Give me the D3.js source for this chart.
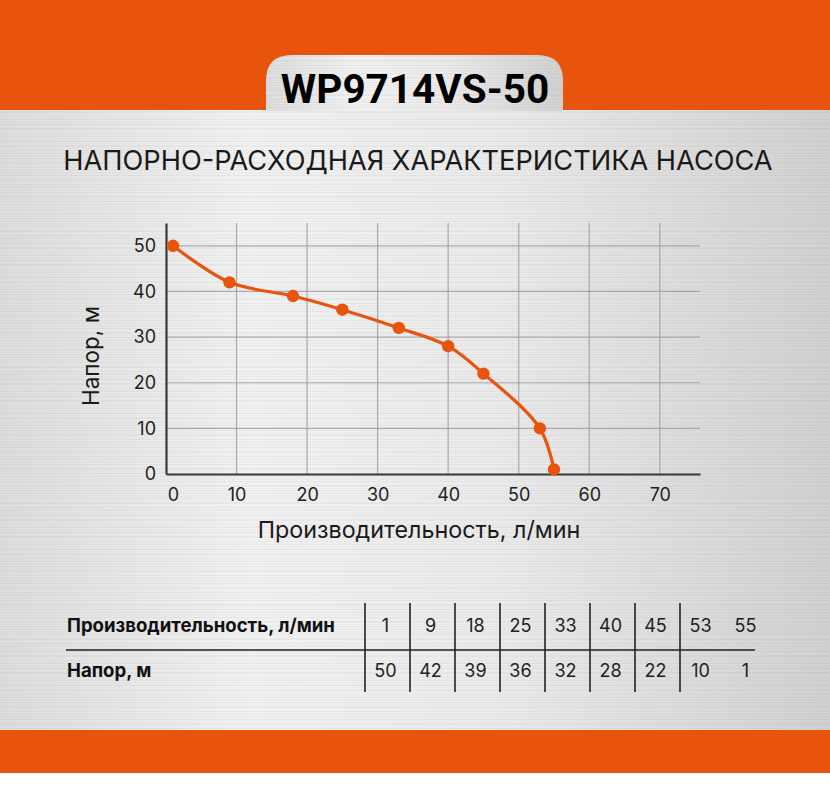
<!DOCTYPE html>
<html><head><meta charset="utf-8">
<script src="https://cdn.jsdelivr.net/npm/d3@7"></script>
<style>html,body{margin:0;padding:0;background:#fff}svg{display:block}</style>
</head><body>
<script>
const flow = [1, 9, 18, 25, 33, 40, 45, 53, 55];
const head = [50, 42, 39, 36, 32, 28, 22, 10, 1];
const xTicks = [0, 10, 20, 30, 40, 50, 60, 70];
const yTicks = [0, 10, 20, 30, 40, 50];
const modelName = "WP9714VS-50";
const chartTitle = "НАПОРНО-РАСХОДНАЯ ХАРАКТЕРИСТИКА НАСОСА";
const xTitle = "Производительность, л/мин";
const yTitle = "Напор, м";
const rowLabels = ["Производительность, л/мин", "Напор, м"];

const W = 830, H = 786;
const ORANGE = "#E8540E";
const FONT = "Inter, 'Liberation Sans', sans-serif";
const svg = d3.select("body").append("svg").attr("width", W).attr("height", H);
const defs = svg.append("defs");

// brushed metal background
const g1 = defs.append("linearGradient").attr("id", "metal").attr("x1", 0).attr("x2", 1).attr("y1", 0).attr("y2", 0);
[[0, "#dedede"], [0.3, "#f3f3f3"], [0.6, "#ececec"], [1, "#d2d2d2"]].forEach(s => g1.append("stop").attr("offset", s[0]).attr("stop-color", s[1]));
const pat = defs.append("pattern").attr("id", "stripes").attr("patternUnits", "userSpaceOnUse").attr("width", W).attr("height", 17);
const stripeDefs = [[0, 1, 0.10], [2, 2, 0.06], [5, 1, 0.12], [7, 1, 0.04], [9, 2, 0.09], [12, 1, 0.05], [14, 1, 0.11], [16, 1, 0.05]];
stripeDefs.forEach(s => pat.append("rect").attr("x", 0).attr("y", s[0]).attr("width", W).attr("height", s[1]).attr("fill", "#888").attr("opacity", s[2]));

svg.append("rect").attr("width", W).attr("height", H).attr("fill", "#fff");
svg.append("rect").attr("x", 0).attr("y", 110).attr("width", W).attr("height", 620).attr("fill", "url(#metal)");
svg.append("rect").attr("x", 0).attr("y", 110).attr("width", W).attr("height", 620).attr("fill", "url(#stripes)");

// orange bands
svg.append("rect").attr("x", 0).attr("y", 0).attr("width", W).attr("height", 110).attr("fill", ORANGE);
svg.append("rect").attr("x", 0).attr("y", 730).attr("width", W).attr("height", 43).attr("fill", ORANGE);

// tab
const tx0 = 266, tx1 = 563, ty0 = 55, ty1 = 111, r = 26;
const tabPath = `M${tx0},${ty1} L${tx0},${ty0 + r} Q${tx0},${ty0} ${tx0 + r},${ty0} L${tx1 - r},${ty0} Q${tx1},${ty0} ${tx1},${ty0 + r} L${tx1},${ty1} Z`;
svg.append("path").attr("d", tabPath).attr("fill", "url(#metal)");
svg.append("path").attr("d", tabPath).attr("fill", "url(#stripes)");
svg.append("text").attr("x", 415).attr("y", 103).attr("text-anchor", "middle")
  .attr("font-family", "Roboto, 'Liberation Sans', sans-serif").attr("font-weight", 700).attr("font-size", 40.5)
  .attr("fill", "#000").text(modelName);

// subtitle
svg.append("text").attr("x", 418).attr("y", 170).attr("text-anchor", "middle")
  .attr("font-family", FONT).attr("font-size", 27.2).attr("fill", "#1a1a1a").text(chartTitle);

// chart
const x = d3.scaleLinear().domain([0, 75.7]).range([166, 700]);
const y = d3.scaleLinear().domain([0, 55]).range([474, 223]);
const chart = svg.append("g");

chart.selectAll(".vg").data(xTicks.filter(d => d > 0)).join("line")
  .attr("x1", d => x(d)).attr("x2", d => x(d)).attr("y1", y(55)).attr("y2", y(0))
  .attr("stroke", "#9a9a9a").attr("stroke-width", 1.2).attr("opacity", 0.8);
chart.selectAll(".hg").data(yTicks.filter(d => d > 0)).join("line")
  .attr("x1", x(0)).attr("x2", x(75.7)).attr("y1", d => y(d)).attr("y2", d => y(d))
  .attr("stroke", "#9a9a9a").attr("stroke-width", 1.2).attr("opacity", 0.8);

const xAxis = chart.append("g").attr("transform", `translate(0,${y(0)})`)
  .call(d3.axisBottom(x).tickValues(xTicks).tickSize(0).tickPadding(14).tickFormat(d3.format("d")));
const yAxis = chart.append("g").attr("transform", `translate(${x(0)},0)`)
  .call(d3.axisLeft(y).tickValues(yTicks).tickSize(0).tickPadding(10).tickFormat(d3.format("d")));
[xAxis, yAxis].forEach(a => {
  a.select(".domain").attr("stroke", "#3a3a3a").attr("stroke-width", 2.2);
  a.selectAll("text").attr("font-family", FONT).attr("font-size", 18).attr("fill", "#222");
});
xAxis.selectAll(".tick text").attr("dx", d => d === 0 ? 7 : 0);

const pts = flow.map((f, i) => [f, head[i]]);
chart.append("path").datum(pts)
  .attr("d", d3.line().x(d => x(d[0])).y(d => y(d[1])).curve(d3.curveCatmullRom.alpha(0.5)))
  .attr("fill", "none").attr("stroke", ORANGE).attr("stroke-width", 3.2);
chart.selectAll(".pt").data(pts).join("circle")
  .attr("cx", d => x(d[0])).attr("cy", d => y(d[1])).attr("r", 6.2).attr("fill", ORANGE);

svg.append("text").attr("x", 419).attr("y", 538).attr("text-anchor", "middle")
  .attr("font-family", FONT).attr("font-size", 23.3).attr("fill", "#1a1a1a").text(xTitle);
svg.append("text").attr("transform", "translate(99,356) rotate(-90)").attr("text-anchor", "middle")
  .attr("font-family", FONT).attr("font-size", 22.5).attr("fill", "#1a1a1a").text(yTitle);

// table
const colX0 = 365, colW = 45, rowY = [632, 677];
const tbl = svg.append("g");
tbl.append("line").attr("x1", 66).attr("x2", 755).attr("y1", 650).attr("y2", 650).attr("stroke", "#222").attr("stroke-width", 1.6);
tbl.selectAll(".vl").data(flow.slice(0, 8)).join("line")
  .attr("x1", (d, i) => colX0 + i * colW).attr("x2", (d, i) => colX0 + i * colW)
  .attr("y1", 603).attr("y2", 692).attr("stroke", "#222").attr("stroke-width", 1.6);
tbl.selectAll(".rl").data(rowLabels).join("text")
  .attr("x", 67).attr("y", (d, i) => rowY[i])
  .attr("font-family", FONT).attr("font-weight", 700).attr("font-size", 18.6).attr("fill", "#111").text(d => d);
[flow, head].forEach((arr, ri) => {
  tbl.selectAll(".v" + ri).data(arr).join("text")
    .attr("x", (d, i) => colX0 + i * colW + colW / 2 - 2).attr("y", rowY[ri]).attr("text-anchor", "middle")
    .attr("font-family", FONT).attr("font-size", 18).attr("fill", "#222").text(d => d);
});
</script>
</body></html>
